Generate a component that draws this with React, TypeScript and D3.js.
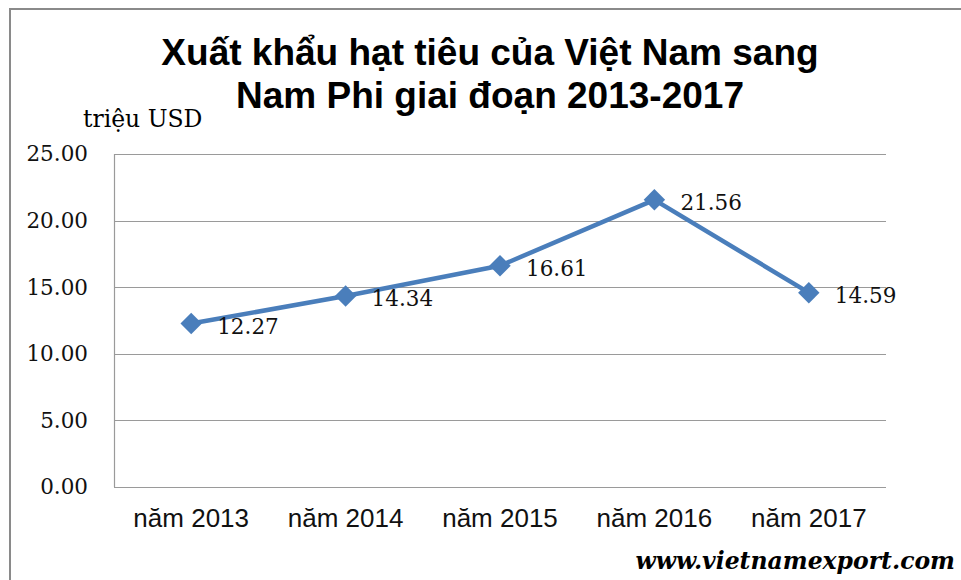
import React, { useRef, useEffect } from "react";
import * as d3 from "d3";

// data
const years = ["năm 2013", "năm 2014", "năm 2015", "năm 2016", "năm 2017"];
const values = [12.27, 14.34, 16.61, 21.56, 14.59];
const yTicks = [0, 5, 10, 15, 20, 25];
const titleLines = ["Xuất khẩu hạt tiêu của Việt Nam sang", "Nam Phi giai đoạn 2013-2017"];

const W = 961;
const H = 580;
const plot = { left: 114, right: 886, top: 154, bottom: 487 };
const blue = "#4a7ebb";

export default function App() {
  const svgRef = useRef<SVGSVGElement>(null);

  useEffect(() => {
    const svg = d3.select(svgRef.current);
    svg.selectAll("*").remove();

    const x = d3.scaleBand().domain(years).range([plot.left, plot.right]);
    const y = d3.scaleLinear().domain([0, 25]).range([plot.bottom, plot.top]);
    const cx = (d: string) => (x(d) as number) + x.bandwidth() / 2;

    // outer frame
    svg.append("rect")
      .attr("x", 10).attr("y", 9)
      .attr("width", W + 20).attr("height", H + 20)
      .attr("fill", "white").attr("stroke", "#8a8a8a").attr("stroke-width", 2);

    // title
    svg.selectAll(".title")
      .data(titleLines)
      .join("text")
      .attr("class", "title")
      .attr("x", 490)
      .attr("y", (d, i) => 65 + i * 43)
      .attr("text-anchor", "middle")
      .attr("font-family", "Liberation Sans, Arial, sans-serif")
      .attr("font-weight", "bold")
      .attr("font-size", 37)
      .attr("fill", "#000")
      .text(d => d);

    svg.append("text")
      .attr("x", 83).attr("y", 127)
      .attr("font-family", "DejaVu Serif, serif")
      .attr("font-size", 23.5)
      .text("triệu USD");

    // grid
    svg.append("g")
      .selectAll("line")
      .data(yTicks)
      .join("line")
      .attr("x1", plot.left).attr("x2", plot.right)
      .attr("y1", d => Math.round(y(d)) + 0.5).attr("y2", d => Math.round(y(d)) + 0.5)
      .attr("stroke", "#9a9a9a").attr("stroke-width", 1.2);

    svg.append("line")
      .attr("x1", plot.left + 0.5).attr("x2", plot.left + 0.5)
      .attr("y1", plot.top).attr("y2", plot.bottom)
      .attr("stroke", "#9a9a9a").attr("stroke-width", 1.2);

    // y axis labels
    const yAxis = d3.axisLeft(y).tickValues(yTicks).tickFormat(d3.format(".2f")).tickSize(0).tickPadding(26);
    const ya = svg.append("g").attr("transform", `translate(${plot.left},0)`).call(yAxis);
    ya.select(".domain").remove();
    ya.selectAll("text")
      .attr("font-family", "DejaVu Serif, serif")
      .attr("font-size", 21.5)
      .attr("fill", "#111");

    // x axis labels
    const xAxis = d3.axisBottom(x).tickSize(0).tickPadding(22);
    const xa = svg.append("g").attr("transform", `translate(0,${plot.bottom})`).call(xAxis);
    xa.select(".domain").remove();
    xa.selectAll("text")
      .attr("font-family", "Liberation Sans, Arial, sans-serif")
      .attr("font-size", 26)
      .attr("fill", "#111");

    // series
    const pts = years.map((d, i) => ({ k: d, v: values[i] }));
    const ln = d3.line<{ k: string; v: number }>().x(d => cx(d.k)).y(d => y(d.v));
    svg.append("path")
      .datum(pts)
      .attr("d", ln)
      .attr("fill", "none")
      .attr("stroke", blue)
      .attr("stroke-width", 4.5)
      .attr("stroke-linejoin", "round");

    const sym = d3.symbol().type(d3.symbolSquare).size(230);
    svg.selectAll(".mk")
      .data(pts)
      .join("path")
      .attr("class", "mk")
      .attr("d", sym)
      .attr("transform", d => `translate(${cx(d.k)},${y(d.v)}) rotate(45)`)
      .attr("fill", blue);

    svg.selectAll(".lbl")
      .data(pts)
      .join("text")
      .attr("class", "lbl")
      .attr("x", d => cx(d.k) + 26)
      .attr("y", d => y(d.v) + 3)
      .attr("dominant-baseline", "central")
      .attr("font-family", "DejaVu Serif, serif")
      .attr("font-size", 21.5)
      .attr("fill", "#111")
      .text(d => d.v.toFixed(2));

    // watermark
    svg.append("text")
      .attr("x", 955).attr("y", 569)
      .attr("text-anchor", "end")
      .attr("font-family", "DejaVu Serif, serif")
      .attr("font-style", "italic")
      .attr("font-weight", "bold")
      .attr("font-size", 23.5)
      .text("www.vietnamexport.com");
  }, []);

  return (
    <div style={{ position: "absolute", left: 0, top: 0 }}>
      <svg ref={svgRef} width={W} height={H} style={{ display: "block", background: "white" }} />
    </div>
  );
}
